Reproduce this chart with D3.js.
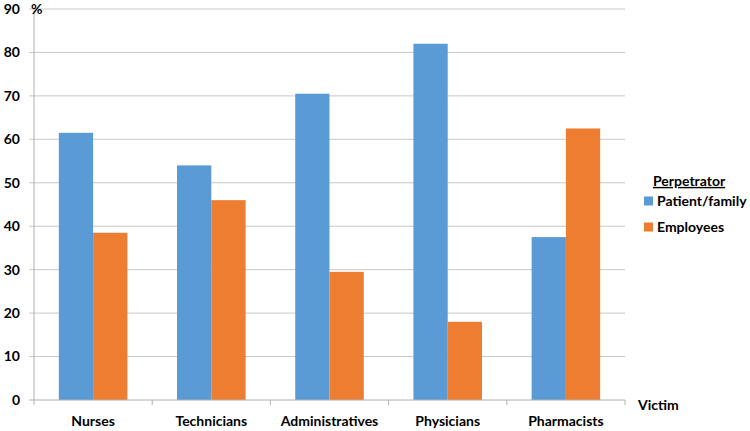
<!DOCTYPE html>
<html><head><meta charset="utf-8">
<script src="https://cdn.jsdelivr.net/npm/d3@7"></script>
<style>body{margin:0;background:#fff;} text{font-family:Lato,"Open Sans",sans-serif;font-weight:bold;fill:#000;}</style>
</head><body><svg id="c" width="750" height="431"></svg>
<script>
const categories = ["Nurses","Technicians","Administratives","Physicians","Pharmacists"];
const seriesNames = ["Patient/family","Employees"];
const patientFamily = [61.5, 54.0, 70.5, 82.0, 37.5];
const employees = [38.5, 46.0, 29.5, 18.0, 62.5];
const yTicks = [0,10,20,30,40,50,60,70,80,90];
const colors = ["#5B9BD5","#ED7D31"];

const svg = d3.select("#c");
const pLeft = 34, pRight = 625, pTop = 9, pBottom = 400;
const fs = 14;
const x = d3.scaleBand().domain(categories).range([pLeft,pRight]).paddingInner(0.42).paddingOuter(0.21);
const y = d3.scaleLinear().domain([0,90]).range([pBottom,pTop]);
const xs = d3.scaleBand().domain(seriesNames).range([0,x.bandwidth()]);

// gridlines
svg.append("g").selectAll("line").data(yTicks.filter(d=>d>0)).join("line")
  .attr("x1",pLeft-5).attr("x2",pRight).attr("y1",d=>y(d)).attr("y2",d=>y(d))
  .attr("stroke","#c8c8c8").attr("stroke-width",1);

// bars
const data = categories.map((c,i)=>({c, vals:[patientFamily[i], employees[i]]}));
const g = svg.append("g").selectAll("g").data(data).join("g")
  .attr("transform",d=>`translate(${x(d.c)},0)`);
g.selectAll("rect").data(d=>d.vals.map((v,j)=>({v,s:seriesNames[j],j}))).join("rect")
  .attr("x",d=>xs(d.s)).attr("width",xs.bandwidth())
  .attr("y",d=>y(d.v)).attr("height",d=>pBottom-y(d.v))
  .attr("fill",d=>colors[d.j]);

// y axis
svg.append("line").attr("x1",pLeft).attr("x2",pLeft).attr("y1",pTop).attr("y2",pBottom).attr("stroke","#b0b0b0");
svg.append("line").attr("x1",pLeft-5).attr("x2",pRight).attr("y1",y(0)).attr("y2",y(0)).attr("stroke","#b0b0b0");
svg.append("g").selectAll("text").data(yTicks).join("text")
  .attr("x",20).attr("y",d=>y(d)).attr("dy","0.35em").attr("text-anchor","end")
  .attr("font-size",fs).text(d=>d);
svg.append("text").attr("x",31).attr("y",y(90)).attr("dy","0.35em").attr("font-size",fs).text("%");

// x axis ticks at boundaries
const bounds = categories.map(c=>x(c)-x.step()*x.paddingInner()/2).concat([pRight]);
bounds[0]=pLeft;
svg.append("g").selectAll("line").data(bounds).join("line")
  .attr("x1",d=>d).attr("x2",d=>d).attr("y1",pBottom).attr("y2",pBottom+5).attr("stroke","#b0b0b0");
svg.append("g").selectAll("text").data(categories).join("text")
  .attr("x",d=>x(d)+x.bandwidth()/2).attr("y",421).attr("dy","0.35em").attr("text-anchor","middle")
  .attr("font-size",fs).text(d=>d);
svg.append("text").attr("x",638).attr("y",405).attr("dy","0.35em").attr("font-size",fs).text("Victim");

// legend
svg.append("text").attr("x",653).attr("y",181).attr("dy","0.35em").attr("font-size",fs)
  .attr("text-decoration","underline").text("Perpetrator");
const lg = svg.append("g").selectAll("g").data(seriesNames).join("g")
  .attr("transform",(d,i)=>`translate(644,${201+i*26})`);
lg.append("rect").attr("x",0).attr("y",-4.5).attr("width",9).attr("height",9).attr("fill",(d,i)=>colors[i]);
lg.append("text").attr("x",13).attr("y",0).attr("dy","0.35em").attr("font-size",fs).text(d=>d);
</script></body></html>
